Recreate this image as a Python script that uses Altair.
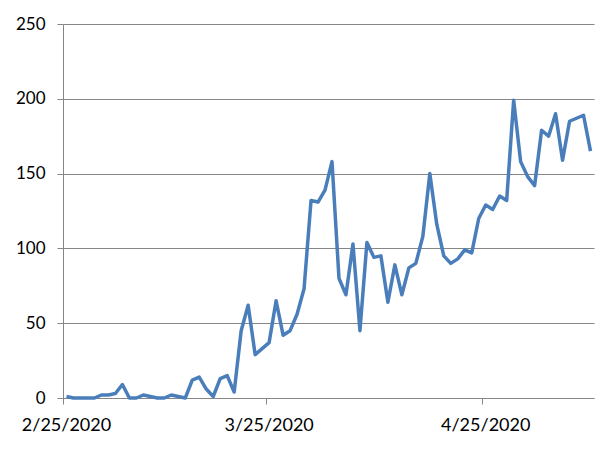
import altair as alt
import pandas as pd

# Daily values, 2/25/2020 .. 5/10/2020
start_date = "2020-02-25"
values = [1, 0, 0, 0, 0, 2, 2, 3, 9, 0,
          0, 2, 1, 0, 0, 2, 1, 0, 12, 14,
          6, 1, 13, 15, 4, 45, 62, 29, 33, 37,
          65, 42, 45, 56, 73, 132, 131, 139, 158, 80,
          69, 103, 45, 104, 94, 95, 64, 89, 69, 87,
          90, 108, 150, 116, 95, 90, 93, 99, 97, 120,
          129, 126, 135, 132, 199, 158, 148, 142, 179, 175,
          190, 159, 185, 187, 189, 165]
tick_dates = ["2020-02-25", "2020-03-25", "2020-04-25"]
y_ticks = [0, 50, 100, 150, 200, 250]

dates = pd.date_range(start_date, periods=len(values), freq="D")
# points sit in the middle of each day slot (Excel date axis style)
df = pd.DataFrame({
    "date": [(d + pd.Timedelta(hours=12)).strftime("%Y-%m-%dT%H:%M:%S") for d in dates],
    "value": values,
})

def dt(s):
    y, m, d = (int(p) for p in s.split("-"))
    return alt.DateTime(year=y, month=m, date=d)

end = dates[-1] + pd.Timedelta(days=1)
x_domain = [dt(start_date), dt(end.strftime("%Y-%m-%d"))]

FONT = "Lato"
GRAY = "#868686"

chart = alt.Chart(df).mark_line(color="#4A7EBB", strokeWidth=3.5, strokeJoin="round").encode(
    x=alt.X("date:T",
            scale=alt.Scale(domain=x_domain),
            axis=alt.Axis(values=[dt(t) for t in tick_dates],
                          format="%-m/%-d/%Y", title=None, grid=False,
                          tickSize=6, tickColor=GRAY, domainColor=GRAY,
                          labelFontSize=18, labelFont=FONT, labelColor="#000000",
                          labelPadding=12, labelOffset=3, labelFlush=False,
                          labelOverlap=False)),
    y=alt.Y("value:Q",
            scale=alt.Scale(domain=[0, 250], nice=False),
            axis=alt.Axis(values=y_ticks, title=None, grid=True, gridColor=GRAY,
                          tickSize=6, tickColor=GRAY, domainColor=GRAY,
                          labelFontSize=17, labelFont=FONT, labelColor="#000000",
                          labelPadding=12)),
).properties(
    width=531,
    height=374,
    padding={"left": 55, "top": 16, "right": 13, "bottom": 40},
    autosize=alt.AutoSizeParams(type="none"),
).configure_view(stroke=None)

chart.save("out.html", embed_options={"renderer": "svg", "actions": False})
